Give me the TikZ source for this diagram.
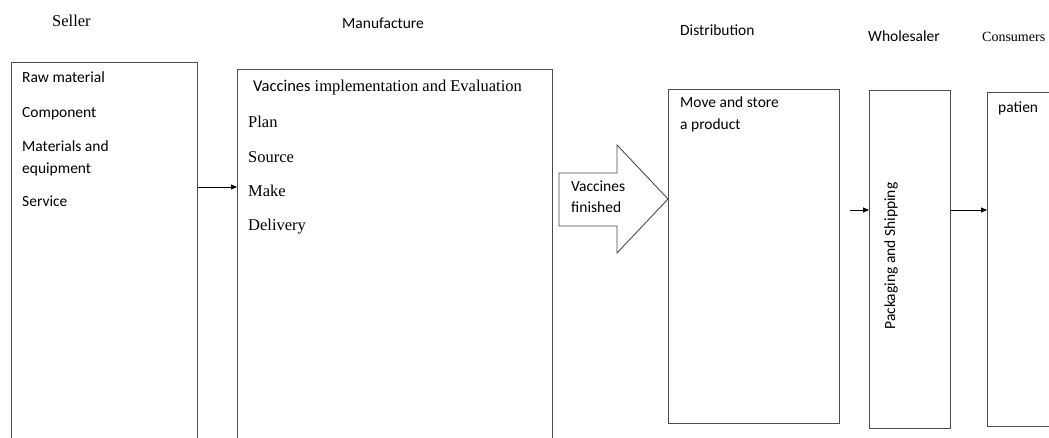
\documentclass[tikz,border=0pt]{standalone}
\usepackage{fontspec}
\setmainfont{Liberation Serif}
\newfontfamily\calib{Carlito}
\usetikzlibrary{arrows.meta}
\definecolor{linegray}{gray}{0.3}
\begin{document}
\begin{tikzpicture}[x=1pt,y=-1pt,
  box/.style={draw=linegray, line width=0.9pt, inner sep=0pt, anchor=north west},
  sans/.style={font=\calib\fontsize{15.5}{18}\selectfont, inner sep=0pt, anchor=base west},
  serif/.style={font=\fontsize{16.5}{19}\selectfont, inner sep=0pt, anchor=base west},
  arr/.style={draw=black, line width=0.8pt, -{Triangle[length=6pt,width=5pt]}}]
\useasboundingbox[fill=white] (0,0) rectangle (1049,438);
% headers
\node[serif] (hSeller) at (52,27) {Seller};
\node[sans] (hManu) at (342,29) {Manufacture};
\node[sans] (hDist) at (680,36) {Distribution};
\node[sans] (hWhole) at (868,42) {Wholesaler};
\node[serif, font=\fontsize{14}{16}\selectfont] (hCons) at (982,42) {Consumers};
% boxes
\node[box, minimum width=186pt, minimum height=390pt] (seller) at (11,62) {};
\node[box, minimum width=315pt, minimum height=390pt] (manu) at (237,69) {};
\node[box, minimum width=171pt, minimum height=334pt] (dist) at (668,89) {};
\node[box, minimum width=81pt, minimum height=338pt] (whole) at (869,90) {};
\node[box, minimum width=80pt, minimum height=334pt] (cons) at (987,92) {};
% seller text
\node[sans] (s1) at (22,83) {Raw material};
\node[sans] (s2) at (22,118) {Component};
\node[sans] (s3) at (22,152) {Materials and};
\node[sans] (s4) at (22,174) {equipment};
\node[sans] (s5) at (22,207) {Service};
% manufacture text
\node[serif] (m0) at (253,92) {{\calib Vaccines} implementation and Evaluation};
\node[serif] (m1) at (248,128) {Plan};
\node[serif] (m2) at (248,163) {Source};
\node[serif] (m3) at (248,197) {Make};
\node[serif] (m4) at (248,231) {Delivery};
% distribution text
\node[sans] (d1) at (680,108) {Move and store};
\node[sans] (d2) at (680,130) {a product};
% block arrow
\coordinate (b1) at (559,173);
\coordinate (b2) at (617,173);
\coordinate (b3) at (617,145);
\coordinate (b4) at (668,199);
\coordinate (b5) at (617,253);
\coordinate (b6) at (617,226);
\coordinate (b7) at (559,226);
\draw[draw=linegray, line width=0.9pt, fill=white] (b1) -- (b2) -- (b3) -- (b4) -- (b5) -- (b6) -- (b7) -- cycle;
\node[sans] (v1) at (571,192) {Vaccines};
\node[sans] (v2) at (571,213) {finished};
% wholesaler text
\node[sans, anchor=center, rotate=90] (w1) at (891,256) {Packaging and Shipping};
% consumers text
\node[sans] (c1) at (998,113) {patien};
% connectors
\coordinate (a1) at (0,187);
\coordinate (a2) at (0,210);
\coordinate (win) at (850,210);
\draw[arr] (seller.east |- a1) -- (manu.west |- a1);
\draw[arr] (win) -- (whole.west |- a2);
\draw[arr] (whole.east |- a2) -- (cons.west |- a2);
\end{tikzpicture}
\end{document}
